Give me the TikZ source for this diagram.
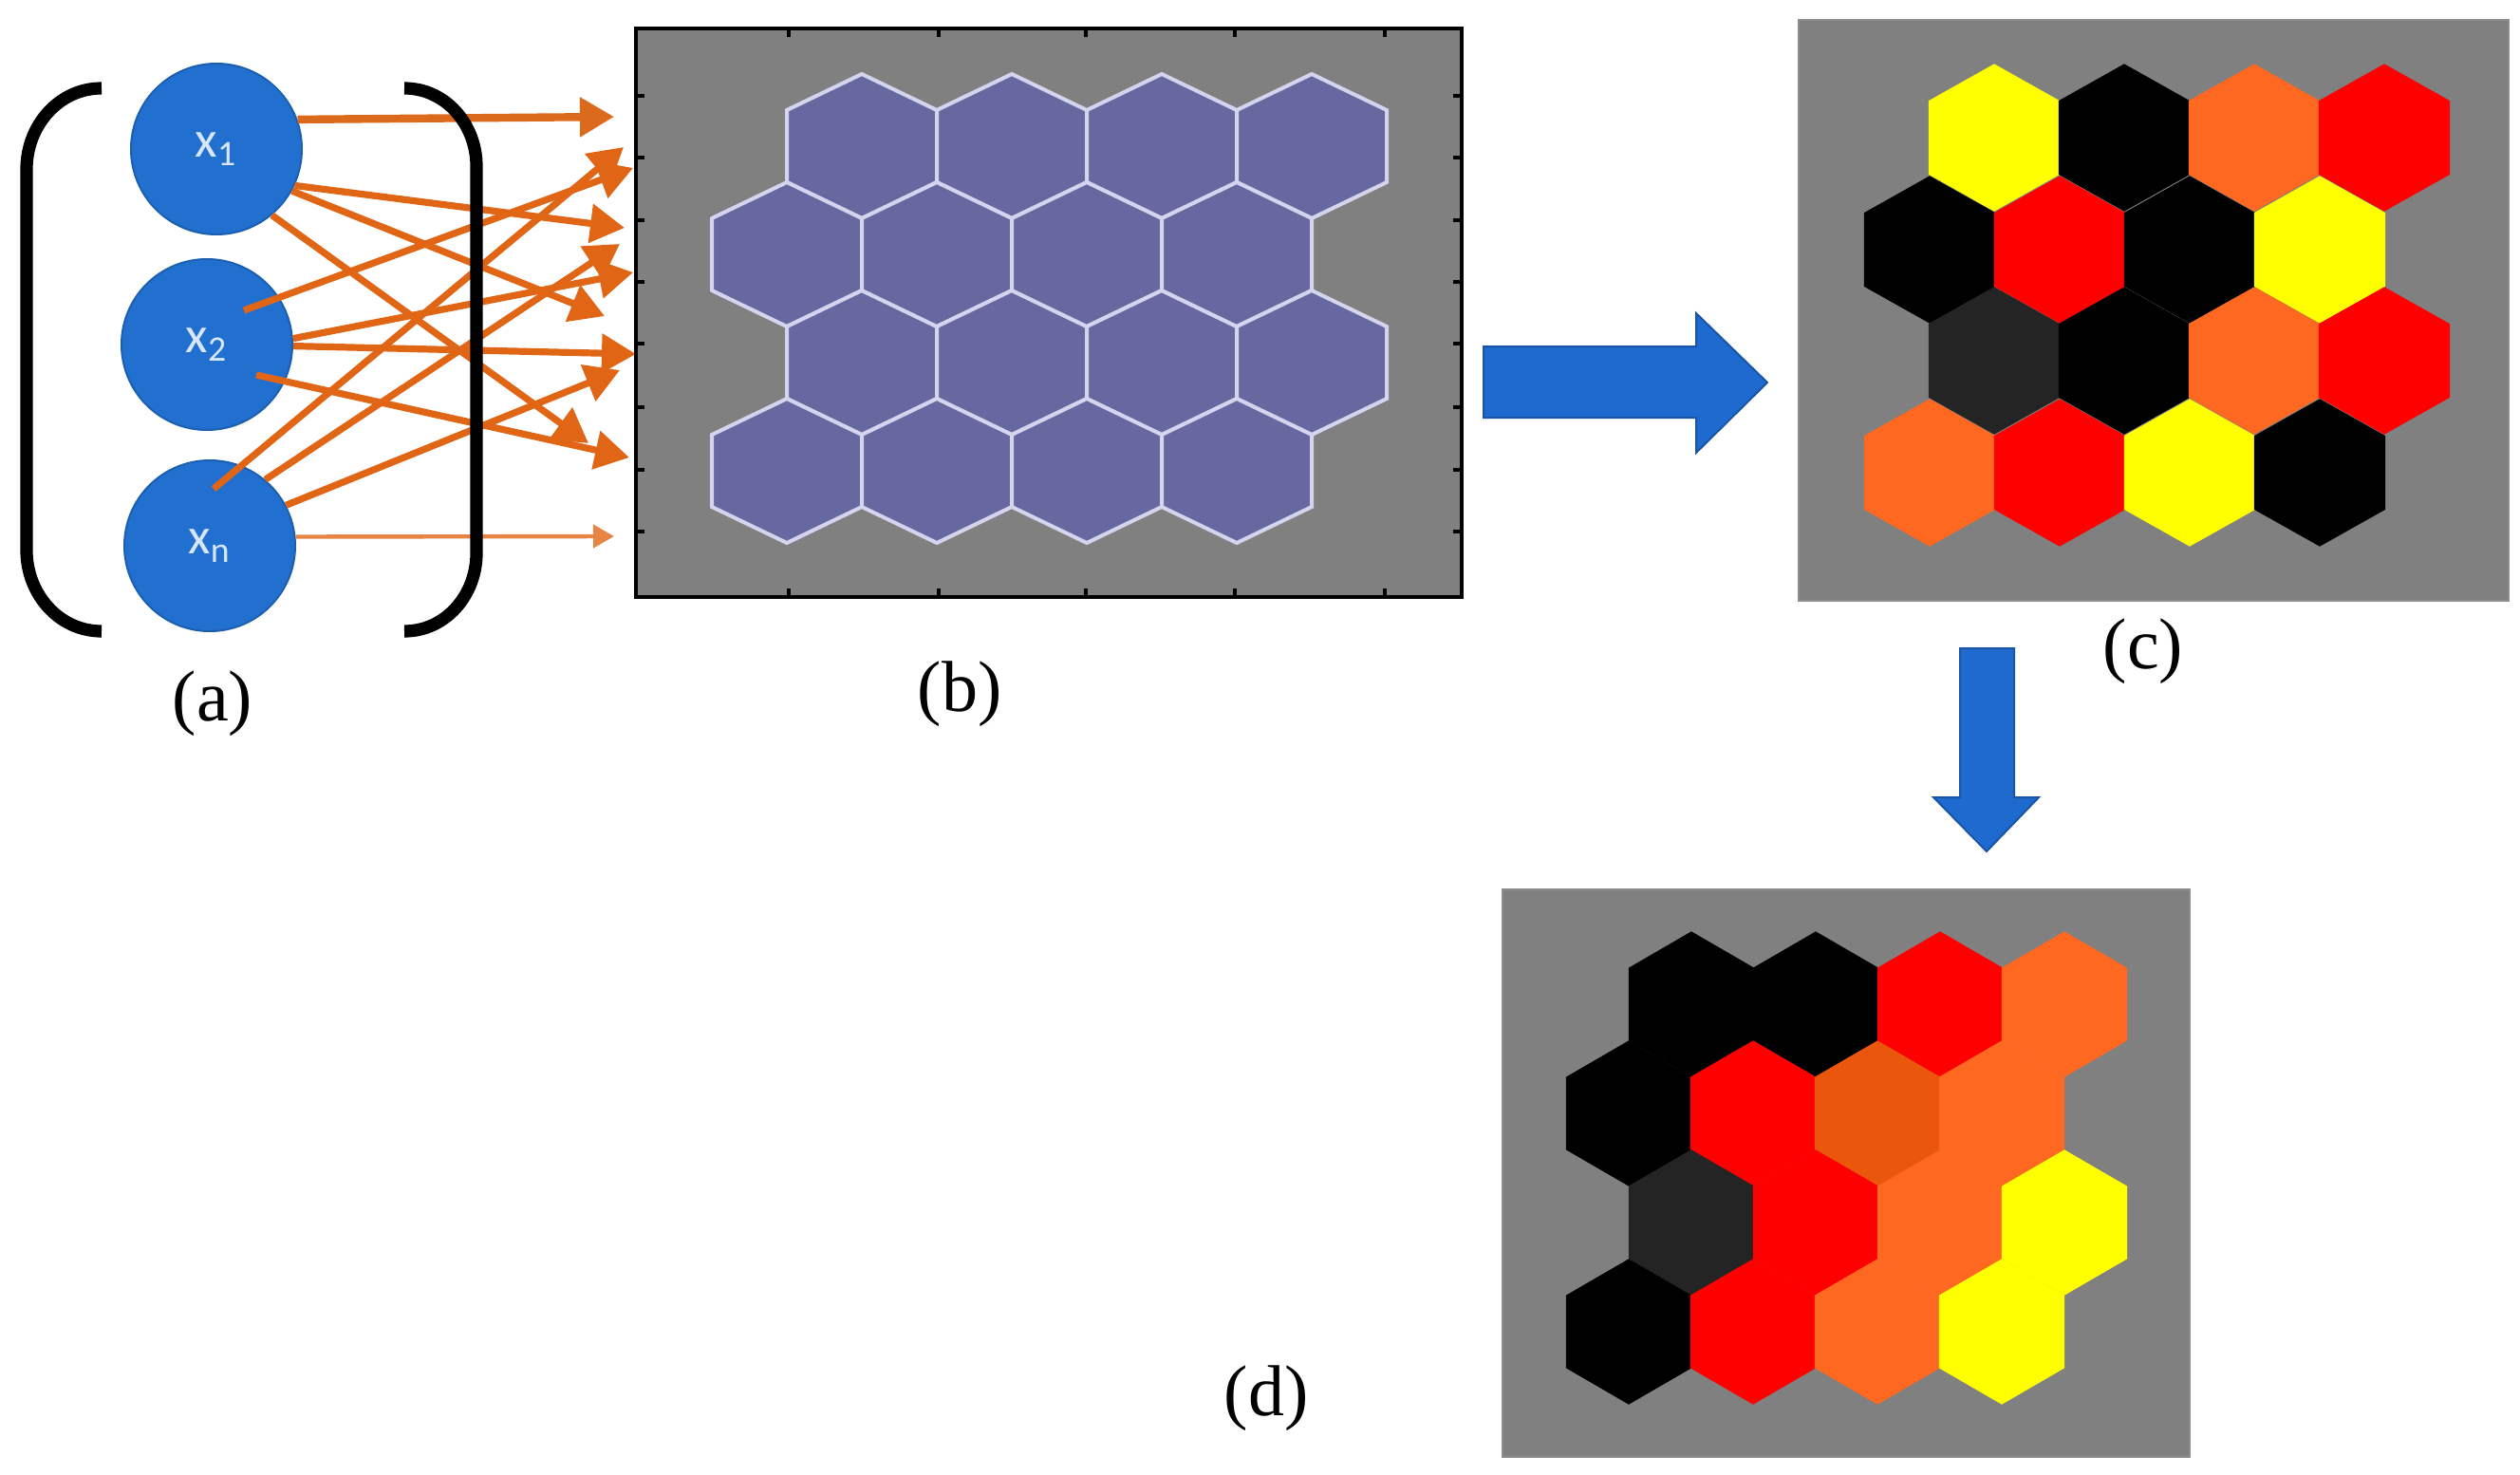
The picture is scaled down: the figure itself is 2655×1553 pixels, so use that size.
\documentclass[tikz,border=0pt]{standalone}
\usepackage{fontspec}
\setmainfont{Liberation Serif}
\newfontfamily\calib{Carlito}
\usetikzlibrary{arrows.meta,calc}
\definecolor{orng}{RGB}{224,102,22}
\definecolor{nodeblue}{RGB}{33,112,208}
\definecolor{labw}{RGB}{215,230,250}
\definecolor{pgray}{RGB}{128,128,128}
\definecolor{hexb}{RGB}{104,104,160}
\definecolor{hexedge}{RGB}{212,212,238}
\definecolor{cy}{RGB}{255,255,0}
\definecolor{ck}{RGB}{0,0,0}
\definecolor{cd}{RGB}{36,36,36}
\definecolor{cr}{RGB}{255,0,0}
\definecolor{co}{RGB}{255,104,32}
\definecolor{cdo}{RGB}{234,86,12}
\definecolor{barrow}{RGB}{31,106,206}
\newcommand\hexcell[5]{\filldraw[#5] ({#1},{#2-#4}) -- ({#1+#3},{#2-#4/2}) -- ({#1+#3},{#2+#4/2}) -- ({#1},{#2+#4}) -- ({#1-#3},{#2+#4/2}) -- ({#1-#3},{#2-#4/2}) -- cycle;}
\tikzset{
  circ/.style={circle, fill=nodeblue, draw=nodeblue!85!black, line width=0.5pt, minimum size=45pt, inner sep=0pt, text=labw, font=\calib\fontsize{13.5}{13.5}\selectfont},
  oarrow/.style={draw=orng, line width=1.8pt, -{Triangle[length=9pt,width=10pt]}},
  topar/.style={draw=orng!85!brown, line width=2.1pt, -{Triangle[length=9pt,width=10pt]}},
  thinar/.style={draw=orng!80!white, line width=1.1pt, -{Triangle[length=5.5pt,width=6pt]}},
  brack/.style={line width=3.3pt, black},
  lab/.style={font=\fontsize{19}{19}\selectfont, inner sep=0pt},
  panelb/.style={fill=pgray, draw=black, line width=1pt},
  panelc/.style={fill=pgray, draw=pgray!90!white, line width=0.5pt},
  tick/.style={draw=black, line width=0.8pt},
  bhex/.style={fill=hexb, draw=hexedge, line width=1pt},
  barr/.style={fill=barrow, draw=barrow!80!black, line width=0.5pt}
}
\begin{document}
\begin{tikzpicture}[x=0.25pt,y=-0.25pt]
\useasboundingbox[fill=white] (0,0) rectangle (2655,1553);

% ---------- panel (a)
\node[circ] (x1) at (228,157) {x\textsubscript{1}};
\node[circ] (x2) at (218,363) {x\textsubscript{2}};
\node[circ] (xn) at (221,575) {x\textsubscript{n}};

\coordinate (t1) at (647,123);
\coordinate (t2) at (658,240);
\coordinate (t3) at (637,333);
\coordinate (t4) at (620,467);
\coordinate (t5) at (667,177);
\coordinate (t6) at (667,287);
\coordinate (t7) at (670,373);
\coordinate (t8) at (663,482);
\coordinate (t9) at (657,155);
\coordinate (t10) at (653,257);
\coordinate (t11) at (653,390);
\coordinate (t12) at (647,565);

\draw[topar] (x1.20) -- (t1);
\draw[oarrow] (x1.-25) -- (t2);
\draw[oarrow] (x1.-29) -- (t3);
\draw[oarrow] (x1.-50) -- (t4);
\draw[oarrow] ($(x2)+(39,-36)$) -- (t5);
\draw[oarrow] (x2.4) -- (t6);
\draw[oarrow] (x2.-1) -- (t7);
\draw[oarrow] ($(x2)+(52,32)$) -- (t8);
\draw[oarrow] ($(xn)+(4,-60)$) -- (t9);
\draw[oarrow] (xn.50) -- (t10);
\draw[oarrow] (xn.28) -- (t11);
\draw[thinar] (xn.6) -- (t12);

\draw[brack] (107,93) to[out=180,in=90] (28,178) -- (28,580) to[out=-90,in=180] (107,665);
\draw[brack] (426,93) to[out=0,in=90] (502,175) -- (502,583) to[out=-90,in=0] (426,665);

\node[lab] (la) at (224,741) {(a)};

% ---------- panel (b)
\draw[panelb] (670,30) rectangle (1540,629);
\foreach \x in {831,989,1144,1301,1459} {
  \draw[tick] (\x,30) -- (\x,39);
  \draw[tick] (\x,629) -- (\x,620);
}
\foreach \y in {101,166,232,297,362,429,495,560} {
  \draw[tick] (670,\y) -- (679,\y);
  \draw[tick] (1540,\y) -- (1531,\y);
}
\foreach \i in {0,1,2,3} {
  \hexcell{908+158*\i}{154}{79}{76}{bhex}
  \hexcell{829+158*\i}{268}{79}{76}{bhex}
  \hexcell{908+158*\i}{382}{79}{76}{bhex}
  \hexcell{829+158*\i}{496}{79}{76}{bhex}
}
\node[lab] (lb) at (1011,731) {(b)};

% ---------- blue arrow (b) -> (c)
\filldraw[barr] (1563,365) -- (1787,365) -- (1787,330) -- (1862,403) -- (1787,477) -- (1787,440) -- (1563,440) -- cycle;

% ---------- panel (c)
\draw[panelc] (1895,21) rectangle (2643,633);
\foreach \c [count=\i from 0] in {cy,ck,co,cr} {\hexcell{2101+137*\i}{145}{68.5}{77}{fill=\c,draw=\c,line width=0.3pt}}
\foreach \c [count=\i from 0] in {ck,cr,ck,cy} {\hexcell{2033+137*\i}{263}{68.5}{77}{fill=\c,draw=\c,line width=0.3pt}}
\foreach \c [count=\i from 0] in {cd,ck,co,cr} {\hexcell{2101+137*\i}{380}{68.5}{77}{fill=\c,draw=\c,line width=0.3pt}}
\foreach \c [count=\i from 0] in {co,cr,cy,ck} {\hexcell{2033+137*\i}{498}{68.5}{77}{fill=\c,draw=\c,line width=0.3pt}}
\node[lab] (lc) at (2258,686) {(c)};

% ---------- blue arrow (c) -> (d)
\filldraw[barr] (2065,683) -- (2122,683) -- (2122,840) -- (2148,840) -- (2093,897) -- (2037,840) -- (2065,840) -- cycle;

% ---------- panel (d)
\draw[panelc] (1583,937) rectangle (2307,1535);
\foreach \c [count=\i from 0] in {ck,ck,cr,co} {\hexcell{1782+131*\i}{1058}{65.5}{76}{fill=\c,draw=\c,line width=0.3pt}}
\foreach \c [count=\i from 0] in {ck,cr,cdo,co} {\hexcell{1716+131*\i}{1173}{65.5}{76}{fill=\c,draw=\c,line width=0.3pt}}
\foreach \c [count=\i from 0] in {cd,cr,co,cy} {\hexcell{1782+131*\i}{1288}{65.5}{76}{fill=\c,draw=\c,line width=0.3pt}}
\foreach \c [count=\i from 0] in {ck,cr,co,cy} {\hexcell{1716+131*\i}{1403}{65.5}{76}{fill=\c,draw=\c,line width=0.3pt}}
\node[lab] (ld) at (1334,1473) {(d)};
\end{tikzpicture}
\end{document}
